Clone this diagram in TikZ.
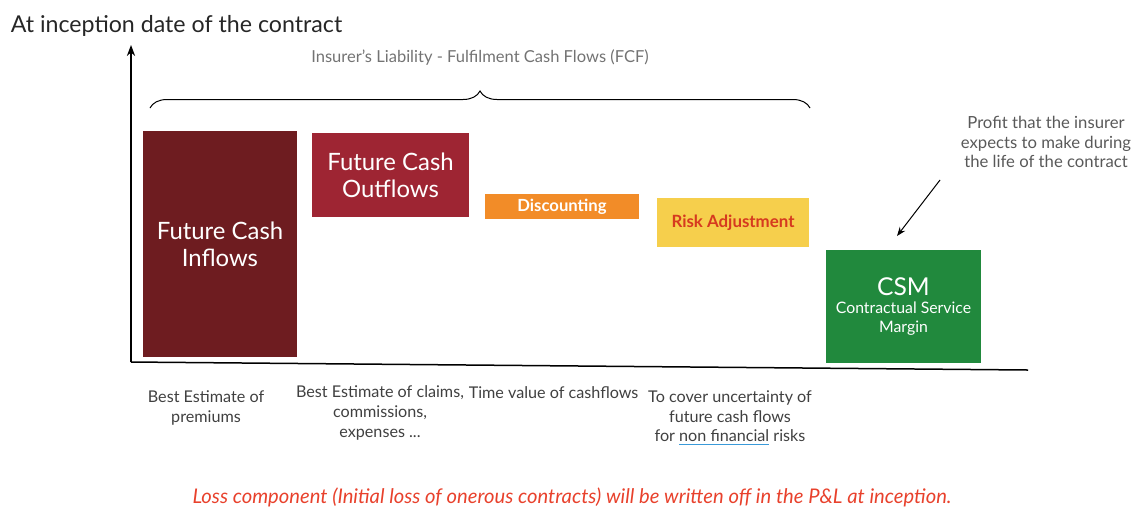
\documentclass[tikz,border=0pt]{standalone}
\usepackage{fontspec}
\setmainfont{Lato}
\usepackage{tikz}
\usetikzlibrary{
	positioning,
	arrows.meta,
	decorations.pathreplacing
}
\tikzset{
	every picture/.style={
		line width=.3mm,
		x=.02cm,
		y=-.02cm,
	},
}
\colorlet{lc}{black!75}
\definecolor{inflowc}{HTML}{6E1C20}
\definecolor{outflowc}{HTML}{9E2533}
\definecolor{discc}{HTML}{F28C28}
\definecolor{riskc}{HTML}{F6CF4C}
\definecolor{risktext}{HTML}{D63A1F}
\definecolor{csmc}{HTML}{21893D}
\definecolor{lossc}{HTML}{E8412C}
\definecolor{ulc}{HTML}{3A9AD9}
\tikzstyle{block} = [
	rectangle,
	draw=none,
	inner sep=0mm,
	align=center,
	text=white,
	font=\fontsize{13.6}{15.4}\selectfont
]
\tikzstyle{lbl} = [
	inner sep=0mm,
	align=center,
	text=lc,
	font=\fontsize{9.2}{11.3}\selectfont
]

\begin{document}
\begin{tikzpicture}
\useasboundingbox (0,0) rectangle (1131,508);

\node[anchor=base west, inner sep=0mm, text=black!85, font=\fontsize{13.2}{15}\selectfont] (title) at (10,32) {At inception date of the contract};

% axes
\coordinate (o) at (131,362);
\coordinate (ytop) at (131,45);
\coordinate (xend) at (1028,370);
\draw[-{Stealth[length=2.2mm]}] (o) -- (ytop);
\draw (o) -- (xend);

% fulfilment cash flows
\node[lbl, text=black!55, font=\fontsize{9.4}{11}\selectfont] (fcf) at (480,58) {Insurer’s Liability - Fulfilment Cash Flows (FCF)};
\draw[line width=.2mm, decorate, decoration={brace, amplitude=3.4mm}] (150,108) -- (810,108);

% blocks
\node[block, fill=inflowc, minimum width=3.08cm, minimum height=4.52cm] (inflows) at (220,244) {Future Cash\\Inflows};
\node[block, fill=outflowc, minimum width=3.14cm, minimum height=1.68cm] (outflows) at (390.5,175) {Future Cash\\Outflows};
\node[block, fill=discc, minimum width=3.08cm, minimum height=.5cm, font=\bfseries\fontsize{9.5}{10}\selectfont] (disc) at (562,206.5) {Discounting};
\node[block, fill=riskc, text=risktext, minimum width=3.04cm, minimum height=.98cm, font=\bfseries\fontsize{9.6}{12}\selectfont] (risk) at (733,222.5) {Risk Adjustment};
\node[block, fill=csmc, minimum width=3.1cm, minimum height=2.26cm, font=\fontsize{9}{10.8}\selectfont] (csm) at (903.5,306.5) {{\fontsize{14}{16}\selectfont CSM}\\Contractual Service\\Margin};

% profit note
\node[lbl, text=black!65, font=\fontsize{9.5}{11.1}\selectfont] (profit) at (1046,142) {Profit that the insurer\\expects to make during\\the life of the contract};
\coordinate (pstart) at (940,180);
\coordinate (ptip) at (897,236);
\draw[line width=.2mm, -{Stealth[length=1.8mm]}] (pstart) -- (ptip);

% labels under the axis
\node[lbl] (premiums) at (206,408) {Best Estimate of\\premiums};
\node[lbl] (claims) at (380,413) {Best Estimate of claims,\\commissions,\\expenses ...};
\node[lbl, anchor=west] (timeval) at (468,393) {Time value of cashflows};
\node[lbl] (uncert) at (730,418) {To cover uncertainty of\\future cash flows\\for {\color{ulc}\underline{\color{lc}non financial}} risks};

\node[inner sep=0mm, text=lossc, font=\itshape\fontsize{11.5}{13}\selectfont] (loss) at (572,497) {Loss component (Initial loss of onerous contracts) will be written off in the P\&L at inception.};
\end{tikzpicture}
\end{document}
